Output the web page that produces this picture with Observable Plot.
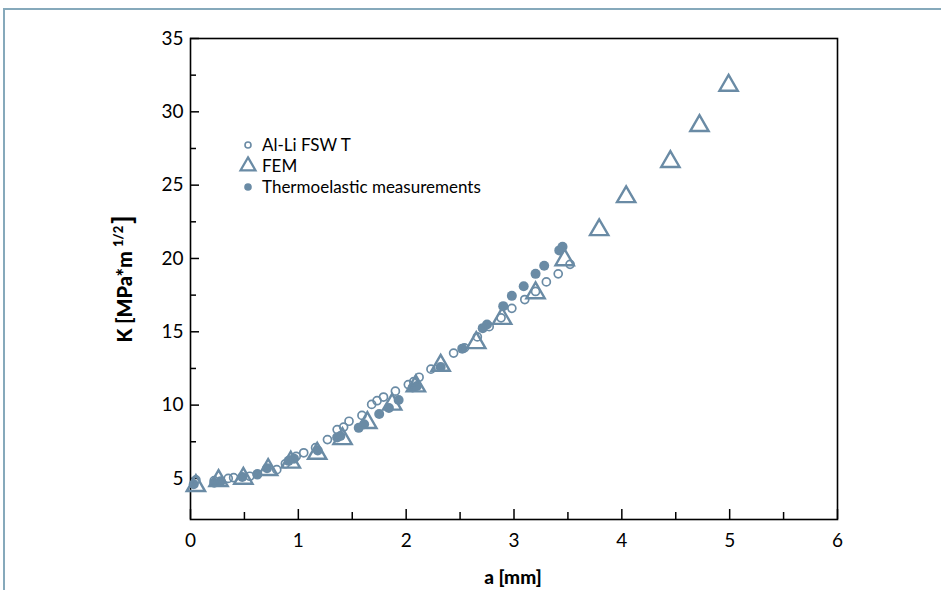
<!DOCTYPE html>
<html>
<head>
<meta charset="utf-8">
<script src="https://cdn.jsdelivr.net/npm/d3@7"></script>
<script src="https://cdn.jsdelivr.net/npm/@observablehq/plot@0.6"></script>
<style>
  html, body { margin: 0; padding: 0; background: white; }
  #wrap { position: relative; width: 941px; height: 590px; overflow: hidden; }
  #border { position: absolute; left: 3px; top: 8px; right: 0; bottom: 0;
            border-top: 2px solid #86a9bb; border-left: 2px solid #86a9bb; pointer-events: none; }
</style>
</head>
<body>
<div id="wrap"><div id="border"></div></div>
<script>
// ---- data ----
const femA = [0.05, 0.26, 0.49, 0.72, 0.93, 1.175, 1.41, 1.64, 1.87, 2.09, 2.32, 2.65, 2.89, 3.2, 3.47, 3.79, 4.04, 4.45, 4.72, 4.99];
const femK = [4.5, 4.85, 5.0, 5.6, 6.1, 6.7, 7.7, 8.8, 10.05, 11.3, 12.7, 14.25, 15.9, 17.65, 19.9, 21.95, 24.2, 26.6, 29.05, 31.8];

const alliA = [0.05, 0.22, 0.35, 0.40, 0.55, 0.62, 0.80, 0.88, 0.98, 1.05, 1.16, 1.27, 1.36, 1.42, 1.47, 1.59, 1.68, 1.73, 1.79, 1.90, 2.02, 2.07, 2.12, 2.23, 2.44, 2.54, 2.66, 2.77, 2.88, 2.98, 3.10, 3.20, 3.30, 3.41, 3.52];
const alliK = [4.9, 4.85, 5.0, 5.05, 5.15, 5.25, 5.6, 6.0, 6.5, 6.75, 7.1, 7.65, 8.33, 8.5, 8.9, 9.3, 10.05, 10.3, 10.55, 10.95, 11.4, 11.6, 11.9, 12.45, 13.55, 13.9, 14.65, 15.35, 15.95, 16.6, 17.2, 17.75, 18.4, 18.95, 19.6];

const thermoA = [0.03, 0.22, 0.28, 0.48, 0.62, 0.71, 0.91, 0.96, 1.18, 1.36, 1.39, 1.56, 1.61, 1.75, 1.84, 1.93, 2.06, 2.10, 2.32, 2.52, 2.71, 2.75, 2.90, 2.98, 3.09, 3.20, 3.28, 3.42, 3.45];
const thermoK = [4.6, 4.7, 4.8, 5.1, 5.3, 5.7, 6.2, 6.35, 6.9, 7.8, 7.9, 8.45, 8.7, 9.4, 9.8, 10.35, 11.2, 11.3, 12.6, 13.85, 15.25, 15.5, 16.75, 17.45, 18.1, 18.95, 19.5, 20.55, 20.8];

const xTickLabels = [0, 1, 2, 3, 4, 5, 6];
const xMinorTicks = [0.5, 1.5, 2.5, 3.5, 4.5, 5.5];
const yTickLabels = [5, 10, 15, 20, 25, 30, 35];
const yMinorTicks = [7.5, 12.5, 17.5, 22.5, 27.5, 32.5];
const seriesNames = ["Al-Li FSW T", "FEM", "Thermoelastic measurements"];
const xLabel = "a [mm]";
const yLabelMain = "K [MPa*m";
const yLabelSup = "1/2";
const yLabelEnd = "]";

const color = "#6a8ba5";
const yMin = 2.2, yMax = 35;
const font = "Lato, 'Open Sans', sans-serif";

const fem = femA.map((a, i) => ({a, K: femK[i]}));
const alli = alliA.map((a, i) => ({a, K: alliK[i]}));
const thermo = thermoA.map((a, i) => ({a, K: thermoK[i]}));

const chart = Plot.plot({
  width: 941,
  height: 590,
  marginLeft: 190,
  marginRight: 104,
  marginTop: 38,
  marginBottom: 71,
  style: {fontFamily: font, fontSize: "19px", color: "black", background: "transparent"},
  x: {domain: [0, 6]},
  y: {domain: [yMin, yMax]},
  marks: [
    Plot.axisX(xTickLabels, {tickSize: 0, tickPadding: 14, fontSize: 19, label: null}),
    Plot.axisY(yTickLabels, {tickSize: 0, tickPadding: 7, fontSize: 19, label: null}),
    Plot.ruleX(xTickLabels, {x: d => d, y1: yMin, y2: yMin, insetTop: -10, stroke: "black", strokeWidth: 1.5}),
    Plot.ruleX(xMinorTicks, {x: d => d, y1: yMin, y2: yMin, insetTop: -7, stroke: "black", strokeWidth: 1.5}),
    Plot.ruleY(yTickLabels, {y: d => d, x1: 0, x2: 0, insetRight: -9, stroke: "black", strokeWidth: 1.5}),
    Plot.ruleY(yMinorTicks, {y: d => d, x1: 0, x2: 0, insetRight: -6, stroke: "black", strokeWidth: 1.5}),
    Plot.frame({stroke: "black", strokeWidth: 1.6}),
    Plot.dot(thermo, {x: "a", y: "K", r: 5, fill: color, stroke: "none"}),
    Plot.dot(alli, {x: "a", y: "K", r: 4, fill: "none", stroke: color, strokeWidth: 1.7}),
    Plot.dot(fem, {x: "a", y: "K", r: 6.8, symbol: "triangle", fill: "none", stroke: color, strokeWidth: 2.4})
  ]
});

document.getElementById("wrap").prepend(chart);
const svg = d3.select(chart);

// axis titles
svg.append("text")
  .attr("x", 513).attr("y", 577)
  .attr("dy", "0.35em")
  .attr("text-anchor", "middle")
  .attr("font-family", font)
  .attr("font-weight", "900").attr("font-size", 19)
  .attr("fill", "black")
  .text(xLabel);

const yl = svg.append("text")
  .attr("transform", "translate(132,279) rotate(-90)")
  .attr("text-anchor", "middle")
  .attr("font-family", font)
  .attr("font-weight", "900").attr("font-size", 20)
  .attr("fill", "black");
yl.append("tspan").text(yLabelMain);
yl.append("tspan").attr("dy", -9).attr("dx", 4).attr("font-size", 13).text(yLabelSup);
yl.append("tspan").attr("dy", 9).attr("dx", 2).attr("font-size", 26).text(yLabelEnd);

// legend
const lg = svg.append("g")
  .attr("font-family", font).attr("font-size", 17)
  .attr("fill", "black").attr("text-anchor", "start");
const legendRows = [
  {name: seriesNames[0], sym: d3.symbolCircle, size: Math.PI * 3.0 * 3.0, fill: "none", stroke: color, sw: 1.6},
  {name: seriesNames[1], sym: d3.symbolTriangle, size: Math.PI * 5.5 * 5.5, fill: "none", stroke: color, sw: 2.3},
  {name: seriesNames[2], sym: d3.symbolCircle, size: Math.PI * 3.8 * 3.8, fill: color, stroke: "none", sw: 0}
];
legendRows.forEach((r, i) => {
  const y = 145 + i * 21;
  lg.append("path")
    .attr("transform", `translate(248,${y})`)
    .attr("d", d3.symbol(r.sym, r.size)())
    .attr("fill", r.fill).attr("stroke", r.stroke).attr("stroke-width", r.sw);
  lg.append("text").attr("x", 262).attr("y", y).attr("dy", "0.35em").attr("text-anchor", "start").text(r.name);
});
</script>
</body>
</html>
